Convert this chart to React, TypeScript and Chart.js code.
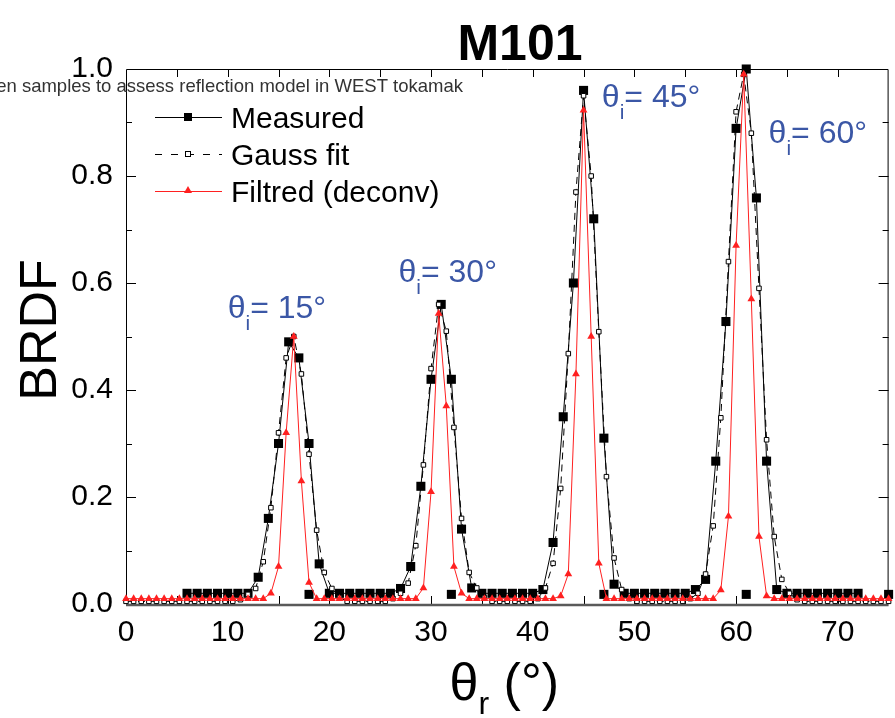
import React, { useEffect, useRef } from 'react';
import { Chart, registerables } from 'chart.js';

Chart.register(...registerables);

const FONT = '"Liberation Sans", Arial, Helvetica, sans-serif';

// Tick labels
const xTickValues = [0, 10, 20, 30, 40, 50, 60, 70];
const yTickValues = [0, 0.2, 0.4, 0.6, 0.8, 1.0];

// Measured BRDF (1° step)
const measuredAngles = [
  6, 7, 8, 9, 10, 11, 12, 13, 14, 15, 16, 17, 18, 19, 20, 21, 22, 23, 24, 25, 26,
  27, 28, 29, 30, 31, 32, 33, 34, 35, 36, 37, 38, 39, 40, 41, 42, 43, 44, 45, 46,
  47, 48, 49, 50, 51, 52, 53, 54, 55, 56, 57, 58, 59, 60, 61, 62, 63, 64, 65, 66,
  67, 68, 69, 70, 71, 72,
];
const measuredBRDF = [
  0.02, 0.02, 0.02, 0.02, 0.02, 0.02, 0.02, 0.05, 0.16, 0.30, 0.49, 0.46, 0.30, 0.075, 0.02,
  0.02, 0.02, 0.02, 0.02, 0.02, 0.02,
  0.029, 0.07, 0.22, 0.42, 0.56, 0.42, 0.14, 0.03,
  0.02, 0.02, 0.02, 0.02, 0.02, 0.02,
  0.027, 0.115, 0.35, 0.60, 0.96, 0.72, 0.31, 0.037,
  0.02, 0.02, 0.02, 0.02, 0.02, 0.02, 0.02,
  0.027, 0.046, 0.267, 0.528, 0.889, 1.0, 0.759, 0.267, 0.027,
  0.02, 0.02, 0.02, 0.02, 0.02, 0.02, 0.02, 0.02,
];

// Isolated measured points lying on the baseline
const measuredExtraAngles = [18, 32, 47, 61, 75];
const measuredExtraBRDF = [0.018, 0.018, 0.018, 0.018, 0.018];

// Fit / deconvolution grid (0.75° step)
const fitAngles = [
  0, 0.75, 1.5, 2.25, 3, 3.75, 4.5, 5.25, 6, 6.75, 7.5, 8.25, 9, 9.75, 10.5, 11.25,
  12, 12.75, 13.5, 14.25, 15, 15.75, 16.5, 17.25, 18, 18.75, 19.5, 20.25, 21, 21.75,
  22.5, 23.25, 24, 24.75, 25.5, 26.25, 27, 27.75, 28.5, 29.25, 30, 30.75, 31.5, 32.25,
  33, 33.75, 34.5, 35.25, 36, 36.75, 37.5, 38.25, 39, 39.75, 40.5, 41.25, 42, 42.75,
  43.5, 44.25, 45, 45.75, 46.5, 47.25, 48, 48.75, 49.5, 50.25, 51, 51.75, 52.5, 53.25,
  54, 54.75, 55.5, 56.25, 57, 57.75, 58.5, 59.25, 60, 60.75, 61.5, 62.25, 63, 63.75,
  64.5, 65.25, 66, 66.75, 67.5, 68.25, 69, 69.75, 70.5, 71.25, 72, 72.75, 73.5, 74.25, 75,
];
const gaussFit = [
  0.005, 0.005, 0.005, 0.005, 0.005, 0.005, 0.005, 0.005, 0.005, 0.005, 0.005, 0.005, 0.005, 0.005, 0.005,
  0.008, 0.018, 0.029, 0.079, 0.18, 0.32, 0.46, 0.50, 0.43, 0.28, 0.138, 0.059, 0.029, 0.012,
  0.005, 0.005, 0.005, 0.005, 0.005, 0.005,
  0.01, 0.02, 0.039, 0.109, 0.26, 0.44, 0.56, 0.51, 0.33, 0.16, 0.059, 0.03, 0.012,
  0.005, 0.005, 0.005, 0.005, 0.005, 0.005,
  0.01, 0.03, 0.076, 0.216, 0.468, 0.77, 0.95, 0.80, 0.509, 0.238, 0.086, 0.027, 0.01,
  0.005, 0.005, 0.005, 0.005, 0.005, 0.005, 0.005,
  0.01, 0.02, 0.056, 0.146, 0.348, 0.64, 0.92, 0.99, 0.88, 0.59, 0.307, 0.126, 0.046, 0.02, 0.008,
  0.005, 0.005, 0.005, 0.005, 0.005, 0.005, 0.005, 0.005, 0.005, 0.005, 0.005, 0.005,
];
const filtred = [
  0.01, 0.01, 0.01, 0.01, 0.01, 0.01, 0.01, 0.01, 0.01, 0.01, 0.01, 0.01, 0.01, 0.01, 0.01, 0.01, 0.01, 0.01, 0.01,
  0.02, 0.07, 0.32, 0.50, 0.23, 0.04,
  0.01, 0.01, 0.01, 0.01, 0.01, 0.01, 0.01, 0.01, 0.01, 0.01, 0.01, 0.01, 0.01, 0.01,
  0.03, 0.21, 0.543, 0.37, 0.07, 0.02,
  0.01, 0.01, 0.01, 0.01, 0.01, 0.01, 0.01, 0.01, 0.01, 0.01, 0.01, 0.01,
  0.015, 0.056, 0.43, 0.923, 0.50, 0.076,
  0.01, 0.01, 0.01, 0.01, 0.01, 0.01, 0.01, 0.01, 0.01, 0.01, 0.01, 0.01, 0.01, 0.01, 0.01,
  0.026, 0.164, 0.67, 0.99, 0.57, 0.126, 0.015,
  0.01, 0.01, 0.01, 0.01, 0.01, 0.01, 0.01, 0.01, 0.01, 0.01, 0.01, 0.01, 0.01, 0.01, 0.01, 0.01,
];

// Peak annotations: incidence angle, anchor (x in °, y in BRDF)
const incidenceLabels = ['15°', '30°', '45°', '60°'];
const incidenceAnchorX = [10.0, 26.8, 46.8, 63.2];
const incidenceAnchorY = [0.535, 0.602, 0.929, 0.862];

const TITLE = 'M101';
const SUBTITLE = 'en samples to assess reflection model in WEST tokamak';
const RED = '#ff2020';
const BLUE = '#3b57a6';

function pts(xs: number[], ys: number[]) {
  return xs.map((x, i) => ({ x, y: ys[i] }));
}

export default function App() {
  const ref = useRef<HTMLCanvasElement>(null);

  useEffect(() => {
    const canvas = ref.current;
    if (!canvas) return;

    const decor = {
      id: 'decor',
      beforeDatasetsDraw(chart: any) {
        const ctx = chart.ctx as CanvasRenderingContext2D;
        const { left, right, top, bottom } = chart.chartArea;
        const xs = chart.scales.x;
        const ys = chart.scales.y;
        ctx.save();
        ctx.strokeStyle = '#000';
        ctx.lineWidth = 1;
        ctx.beginPath();
        ctx.moveTo(left + 0.5, bottom);
        ctx.lineTo(left + 0.5, top + 0.5);
        ctx.lineTo(right - 0.5, top + 0.5);
        ctx.lineTo(right - 0.5, bottom);
        ctx.stroke();
        for (let v = 5; v < 75; v += 5) {
          const x = Math.round(xs.getPixelForValue(v)) + 0.5;
          ctx.beginPath();
          ctx.moveTo(x, top);
          ctx.lineTo(x, top + 8);
          ctx.moveTo(x, bottom);
          ctx.lineTo(x, bottom - 8);
          ctx.stroke();
        }
        for (let k = 1; k < 10; k++) {
          const y = Math.round(ys.getPixelForValue(k / 10)) + 0.5;
          const len = k % 2 === 0 ? 10 : 6;
          ctx.beginPath();
          ctx.moveTo(left, y);
          ctx.lineTo(left + len, y);
          ctx.moveTo(right, y);
          ctx.lineTo(right - len, y);
          ctx.stroke();
        }
        ctx.strokeStyle = '#5a5a5a';
        ctx.lineWidth = 2.5;
        ctx.beginPath();
        ctx.moveTo(left, bottom + 1);
        ctx.lineTo(right, bottom + 1);
        ctx.stroke();
        ctx.restore();
      },
      afterDatasetsDraw(chart: any) {
        const ctx = chart.ctx as CanvasRenderingContext2D;
        const { left, right } = chart.chartArea;
        const xs = chart.scales.x;
        const ys = chart.scales.y;
        ctx.save();

        ctx.fillStyle = '#000';
        ctx.font = `bold 50px ${FONT}`;
        ctx.textAlign = 'center';
        ctx.textBaseline = 'alphabetic';
        ctx.fillText(TITLE, 520, 60);

        ctx.fillStyle = '#333';
        ctx.font = `18.5px ${FONT}`;
        ctx.textAlign = 'right';
        ctx.fillText(SUBTITLE, 463, 92);

        const legendItems = [
          { y: 117, text: 'Measured', kind: 'measured' },
          { y: 154, text: 'Gauss fit', kind: 'gauss' },
          { y: 191, text: 'Filtred (deconv)', kind: 'filtred' },
        ];
        for (const it of legendItems) {
          ctx.save();
          ctx.lineWidth = 1;
          if (it.kind === 'gauss') ctx.setLineDash([7, 9]);
          ctx.strokeStyle = it.kind === 'filtred' ? RED : '#000';
          ctx.beginPath();
          ctx.moveTo(155, it.y + 0.5);
          ctx.lineTo(222, it.y + 0.5);
          ctx.stroke();
          ctx.setLineDash([]);
          if (it.kind === 'measured') {
            ctx.fillStyle = '#000';
            ctx.fillRect(184, it.y - 4, 8, 8);
          } else if (it.kind === 'gauss') {
            ctx.fillStyle = '#fff';
            ctx.fillRect(185, it.y - 2, 5, 5);
            ctx.strokeStyle = '#000';
            ctx.strokeRect(185.5, it.y - 2.5, 5, 5);
          } else {
            ctx.fillStyle = RED;
            ctx.beginPath();
            ctx.moveTo(188, it.y - 5);
            ctx.lineTo(192, it.y + 2);
            ctx.lineTo(184, it.y + 2);
            ctx.closePath();
            ctx.fill();
          }
          ctx.fillStyle = '#000';
          ctx.font = `30px ${FONT}`;
          ctx.textAlign = 'left';
          ctx.textBaseline = 'alphabetic';
          ctx.fillText(it.text, 231, it.y + 11);
          ctx.restore();
        }

        ctx.fillStyle = BLUE;
        ctx.textAlign = 'left';
        ctx.textBaseline = 'alphabetic';
        incidenceLabels.forEach((lab, i) => {
          let x = xs.getPixelForValue(incidenceAnchorX[i]);
          const y = ys.getPixelForValue(incidenceAnchorY[i]);
          ctx.font = `32px ${FONT}`;
          ctx.fillText('θ', x, y);
          x += ctx.measureText('θ').width;
          ctx.font = `21px ${FONT}`;
          ctx.fillText('i', x, y + 12);
          x += ctx.measureText('i').width;
          ctx.font = `32px ${FONT}`;
          ctx.fillText('= ' + lab, x, y);
        });

        ctx.fillStyle = '#000';
        ctx.save();
        ctx.translate(56, 330);
        ctx.rotate(-Math.PI / 2);
        ctx.font = `52px ${FONT}`;
        ctx.textAlign = 'center';
        ctx.fillText('BRDF', 0, 0);
        ctx.restore();

        ctx.font = `52px ${FONT}`;
        const thW = ctx.measureText('θ').width;
        ctx.font = `32px ${FONT}`;
        const rW = ctx.measureText('r').width;
        ctx.font = `52px ${FONT}`;
        const restW = ctx.measureText(' (°)').width;
        let tx = (left + right) / 2 - (thW + rW + restW) / 2 - 3;
        const ty = 700;
        ctx.textAlign = 'left';
        ctx.fillText('θ', tx, ty);
        tx += thW;
        ctx.font = `32px ${FONT}`;
        ctx.fillText('r', tx, ty + 14);
        tx += rW;
        ctx.font = `52px ${FONT}`;
        ctx.fillText(' (°)', tx, ty);

        ctx.restore();
      },
    };

    const chart = new Chart(canvas, {
      type: 'line',
      data: {
        datasets: [
          {
            label: 'Filtred (deconv)',
            data: pts(fitAngles, filtred),
            borderColor: RED,
            backgroundColor: RED,
            borderWidth: 1,
            pointStyle: 'triangle',
            pointRadius: 4.5,
            pointBorderWidth: 0,
            pointBackgroundColor: RED,
            tension: 0,
            clip: false,
            order: 0,
          },
          {
            label: 'Gauss fit',
            data: pts(fitAngles, gaussFit),
            borderColor: '#000',
            borderWidth: 1,
            borderDash: [7, 5],
            pointStyle: 'rect',
            pointRadius: 3.2,
            pointBorderWidth: 1,
            pointBorderColor: '#000',
            pointBackgroundColor: '#fff',
            tension: 0,
            clip: false,
            order: 1,
          },
          {
            label: 'Measured',
            data: pts(measuredAngles, measuredBRDF),
            borderColor: '#000',
            backgroundColor: '#000',
            borderWidth: 1,
            pointStyle: 'rect',
            pointRadius: 6.4,
            pointBorderWidth: 0,
            pointBackgroundColor: '#000',
            tension: 0,
            clip: false,
            order: 2,
          },
          {
            label: 'Measured (baseline)',
            data: pts(measuredExtraAngles, measuredExtraBRDF),
            showLine: false,
            borderColor: '#000',
            backgroundColor: '#000',
            pointStyle: 'rect',
            pointRadius: 6.4,
            pointBorderWidth: 0,
            pointBackgroundColor: '#000',
            clip: false,
            order: 3,
          },
        ],
      },
      options: {
        responsive: false,
        animation: false,
        events: [],
        layout: { padding: { left: 0, right: 2, top: 69, bottom: 0 } },
        plugins: {
          legend: { display: false },
          tooltip: { enabled: false },
          title: { display: false },
        },
        scales: {
          x: {
            type: 'linear',
            min: 0,
            max: 75,
            grid: { display: false, drawTicks: false },
            border: { display: false },
            ticks: {
              color: '#000',
              font: { family: FONT, size: 30 },
              padding: 11,
              maxRotation: 0,
              includeBounds: false,
              callback: (v: any) => String(v),
            },
            afterBuildTicks: (scale: any) => {
              scale.ticks = xTickValues.map((v) => ({ value: v }));
            },
            afterFit: (scale: any) => {
              scale.height = 114;
            },
          },
          y: {
            type: 'linear',
            min: 0,
            max: 1,
            grid: { display: false, drawTicks: false },
            border: { display: false },
            ticks: {
              color: '#000',
              font: { family: FONT, size: 30 },
              padding: 13,
              callback: (v: any) => Number(v).toFixed(1),
            },
            afterBuildTicks: (scale: any) => {
              scale.ticks = yTickValues.map((v) => ({ value: v }));
            },
            afterFit: (scale: any) => {
              scale.width = 126;
            },
          },
        },
      },
      plugins: [decor],
    });

    return () => chart.destroy();
  }, []);

  return (
    <div style={{ position: 'absolute', left: 0, top: 0, width: 895, height: 718, background: '#fff' }}>
      <canvas ref={ref} width={895} height={718} style={{ display: 'block', width: 895, height: 718 }} />
    </div>
  );
}
